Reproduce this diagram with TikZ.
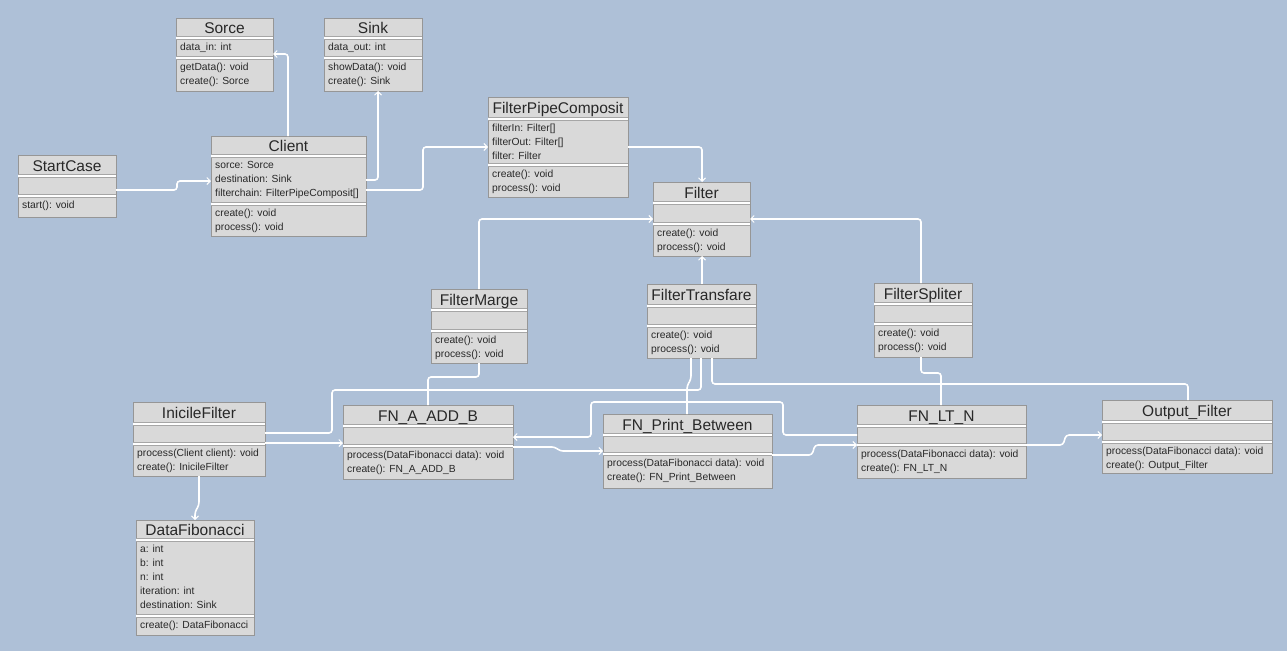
\documentclass[tikz,border=0pt]{standalone}
\usepackage{fontspec}
\setmainfont{Liberation Sans}
\usetikzlibrary{arrows.meta,calc}
\definecolor{bg}{RGB}{174,192,215}
\definecolor{boxfill}{RGB}{217,217,217}
\definecolor{boxline}{RGB}{150,150,150}
\definecolor{txtc}{RGB}{40,40,40}
\tikzset{
  boxstyle/.style={draw=boxline, fill=boxfill, line width=0.9pt, inner sep=0pt, outer sep=0pt, anchor=north west},
  titlestyle/.style={font=\fontsize{15.5}{17}\selectfont, text=txtc, inner sep=0pt, anchor=base},
  txtstyle/.style={font=\fontsize{10.3}{12}\selectfont, text=txtc, inner sep=0pt, anchor=base west},
  conn/.style={draw=white, line width=1.6pt, rounded corners=3pt, -{Straight Barb[length=3.5pt,width=7pt,line width=1pt]}},
  plainconn/.style={draw=white, line width=1.6pt, rounded corners=3pt},
}
% name x1 y1 x2 y2 t a title
\newcommand\umlbox[8]{%
  \node[boxstyle, minimum width={#4-#2}, minimum height={#5-#3}] (#1) at (#2,#3) {};
  \draw[boxline!85, line width=3.2pt] (#2,#6) -- (#4,#6);
  \draw[white, line width=1.6pt] (#2,#6) -- (#4,#6);
  \draw[boxline!85, line width=3.2pt] (#2,#7) -- (#4,#7);
  \draw[white, line width=1.6pt] (#2,#7) -- (#4,#7);
  \node[titlestyle] (#1-t) at ({(#2+#4)/2},{(#3+#6)/2+5.5}) {#8};
}
% prefix x sep list
\newcommand\umllines[4]{%
  \foreach \s [count=\i] in {#4} {\node[txtstyle] (#1-\i) at (#2+4,#3+12+14*\i-14) {\s};}
}
\begin{document}
\begin{tikzpicture}[x=1pt,y=-1pt]
\fill[bg] (0,0) rectangle (1287,651);
\useasboundingbox (0,0) rectangle (1287,651);

% boxes
\umlbox{sorce}{176}{18}{273}{91}{38}{58}{Sorce}
\umllines{sorce-a}{176}{38}{data\_in: int}
\umllines{sorce-m}{176}{58}{getData(): void,create(): Sorce}

\umlbox{sink}{324}{18}{422}{91}{38}{58}{Sink}
\umllines{sink-a}{324}{38}{data\_out: int}
\umllines{sink-m}{324}{58}{showData(): void,create(): Sink}

\umlbox{client}{211}{136}{366}{236}{156}{204}{Client}
\umllines{client-a}{211}{156}{sorce: Sorce,destination: Sink,filterchain: FilterPipeComposit[]}
\umllines{client-m}{211}{204}{create(): void,process(): void}

\umlbox{startcase}{18}{155}{116}{217}{176}{196}{StartCase}
\umllines{startcase-m}{18}{196}{start(): void}

\umlbox{fpc}{488}{97}{628}{197}{119}{165}{FilterPipeComposit}
\umllines{fpc-a}{488}{119}{filterIn: Filter[],filterOut: Filter[],filter: Filter}
\umllines{fpc-m}{488}{165}{create(): void,process(): void}

\umlbox{filter}{653}{182}{750}{256}{203}{224}{Filter}
\umllines{filter-m}{653}{224}{create(): void,process(): void}

\umlbox{fmarge}{431}{289}{527}{363}{310}{331}{FilterMarge}
\umllines{fmarge-m}{431}{331}{create(): void,process(): void}

\umlbox{ftrans}{647}{284}{756}{358}{306}{326}{FilterTransfare}
\umllines{ftrans-m}{647}{326}{create(): void,process(): void}

\umlbox{fspl}{874}{283}{972}{357}{304}{324}{FilterSpliter}
\umllines{fspl-m}{874}{324}{create(): void,process(): void}

\umlbox{inicile}{133}{402}{265}{476}{424}{444}{InicileFilter}
\umllines{inicile-m}{133}{444}{process(Client client): void,create(): InicileFilter}

\umlbox{fnadd}{343}{405}{513}{479}{426}{446}{FN\_A\_ADD\_B}
\umllines{fnadd-m}{343}{446}{process(DataFibonacci data): void,create(): FN\_A\_ADD\_B}

\umlbox{fnprint}{603}{414}{772}{488}{435}{454}{FN\_Print\_Between}
\umllines{fnprint-m}{603}{454}{process(DataFibonacci data): void,create(): FN\_Print\_Between}

\umlbox{fnlt}{857}{405}{1026}{478}{426}{445}{FN\_LT\_N}
\umllines{fnlt-m}{857}{445}{process(DataFibonacci data): void,create(): FN\_LT\_N}

\umlbox{outf}{1102}{400}{1272}{473}{422}{442}{Output\_Filter}
\umllines{outf-m}{1102}{442}{process(DataFibonacci data): void,create(): Output\_Filter}

\umlbox{datafib}{136}{520}{254}{635}{540}{616}{DataFibonacci}
\umllines{datafib-a}{136}{540}{a: int,b: int,n: int,iteration: int,destination: Sink}
\umllines{datafib-m}{136}{616}{create(): DataFibonacci}

% connectors
\draw[conn] ($(startcase.north east)+(0,35)$) -- (177,190) -- (177,181) -- ($(client.north west)+(0,45)$);
\draw[conn] ($(client.north west)+(77,0)$) -- (288,54) -- ($(sorce.north east)+(0,36)$);
\draw[conn] ($(client.north east)+(0,44)$) -- (378,180) -- ($(sink.south west)+(54,0)$);
\draw[conn] ($(client.north east)+(0,54)$) -- (423,190) -- (423,147) -- ($(fpc.north west)+(0,50)$);
\draw[conn] ($(fpc.north east)+(0,50)$) -- (702,147) -- ($(filter.north west)+(49,0)$);
\draw[conn] ($(fmarge.north west)+(48,0)$) -- (479,219) -- ($(filter.north west)+(0,37)$);
\draw[conn] ($(ftrans.north west)+(55,0)$) -- ($(filter.south west)+(49,0)$);
\draw[conn] ($(fspl.north west)+(47,0)$) -- (921,219) -- ($(filter.north east)+(0,37)$);

\draw[plainconn] ($(fmarge.south west)+(48,0)$) -- (479,377) -- (428,377) -- ($(fnadd.north west)+(85,0)$);
\draw[plainconn] ($(ftrans.south west)+(44,0)$) -- (691,379) -- (687,386) -- ($(fnprint.north west)+(84,0)$);
\draw[plainconn] ($(ftrans.south west)+(54,0)$) -- (701,390) -- (332,390) -- (332,433) -- ($(inicile.north east)+(0,31)$);
\draw[plainconn] ($(ftrans.south west)+(65,0)$) -- (712,384) -- (1188,384) -- ($(outf.north west)+(86,0)$);
\draw[plainconn] ($(fspl.south west)+(47,0)$) -- (921,373) -- (941,373) -- ($(fnlt.north west)+(84,0)$);

\draw[conn] ($(fnlt.north west)+(0,30)$) -- (783,435) -- (783,402) -- (591,402) -- (591,437) -- ($(fnadd.north east)+(0,32)$);
\draw[conn] ($(inicile.north east)+(0,41)$) -- ($(fnadd.north west)+(0,38)$);
\draw[conn] ($(fnadd.north east)+(0,42)$) -- (555,447) -- (560,451) -- ($(fnprint.north west)+(0,37)$);
\draw[conn] ($(fnprint.north east)+(0,41)$) -- (812,455) -- (815,445) -- ($(fnlt.north west)+(0,40)$);
\draw[conn] ($(fnlt.north east)+(0,40)$) -- (1063,445) -- (1066,435) -- ($(outf.north west)+(0,35)$);
\draw[conn] ($(inicile.south west)+(66,0)$) -- (199,505) -- (195,512) -- ($(datafib.north west)+(59,0)$);
\end{tikzpicture}
\end{document}
